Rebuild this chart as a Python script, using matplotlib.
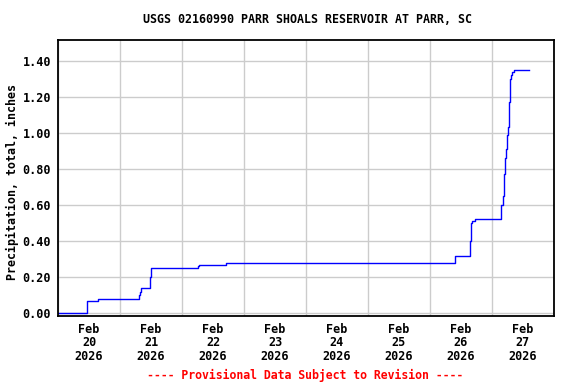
import pandas as pd
import matplotlib
matplotlib.use("Agg")
import matplotlib.pyplot as plt
import matplotlib.dates as mdates

# hours after 2026-02-20 00:00 and cumulative precipitation (inches)
HOURS = [0, 11.2, 15.5, 31.2, 31.7, 32.2, 35.8, 36.0, 54.0, 54.5, 65.0,
         153.6, 153.8, 159.4, 159.8, 160.3, 161.5, 171.6, 172.1, 172.6,
         172.8, 173.0, 173.3, 173.8, 174.2, 174.5, 175.0, 175.2, 175.7,
         176.4, 182.4]
PRECIP = [0.00, 0.07, 0.08, 0.10, 0.12, 0.14, 0.20, 0.25, 0.26, 0.27, 0.28,
          0.31, 0.32, 0.40, 0.50, 0.51, 0.52, 0.60, 0.65, 0.72,
          0.77, 0.86, 0.91, 0.99, 1.03, 1.17, 1.30, 1.32, 1.34,
          1.35, 1.35]
Y_TICKS = [0.0, 0.2, 0.4, 0.6, 0.8, 1.0, 1.2, 1.4]

START = pd.Timestamp("2026-02-20")
FONT = dict(family="DejaVu Sans Mono", weight="bold")


def main():
    times = START + pd.to_timedelta(HOURS, unit="h")

    fig = plt.figure(figsize=(5.76, 3.84), dpi=100)
    ax = fig.add_axes([0.1007, 0.1771, 0.8611, 0.7187])

    ax.plot(times, PRECIP, color="#0000ff", lw=1.0, drawstyle="steps-post")

    ax.set_xlim(START, START + pd.Timedelta(days=8))
    ax.set_ylim(-0.015, 1.515)

    # gridlines at midnight, labels at noon
    ax.xaxis.set_major_locator(mdates.DayLocator())
    ax.xaxis.set_major_formatter(plt.NullFormatter())
    ax.xaxis.set_minor_locator(mdates.HourLocator(byhour=[12]))
    ax.xaxis.set_minor_formatter(mdates.DateFormatter("%b\n%d\n%Y"))
    ax.tick_params(axis="x", which="both", length=0, pad=5)
    ax.tick_params(axis="y", length=0, pad=5)

    ax.set_yticks(Y_TICKS)
    ax.set_yticklabels([f"{v:.2f}" for v in Y_TICKS])
    for lbl in ax.get_xticklabels(minor=True) + ax.get_yticklabels():
        lbl.set_fontfamily(FONT["family"])
        lbl.set_fontweight("bold")
        lbl.set_fontsize(8.5)
    for lbl in ax.get_xticklabels(minor=True):
        lbl.set_linespacing(1.05)

    ax.grid(True, which="major", color="#cccccc", lw=1.0)
    ax.set_axisbelow(True)
    for sp in ax.spines.values():
        sp.set_linewidth(1.3)

    fig.text(0.021, 0.525, "Precipitation, total, inches", rotation=90,
             ha="center", va="center", fontsize=8.4, **FONT)
    fig.text(0.533, 0.95, "USGS 02160990 PARR SHOALS RESERVOIR AT PARR, SC",
             ha="center", va="center", fontsize=8.4, **FONT)
    fig.text(0.53, 0.023, "---- Provisional Data Subject to Revision ----",
             ha="center", va="center", fontsize=8.3, color="#ff0000", **FONT)

    fig.savefig("out.png", dpi=100)


if __name__ == "__main__":
    main()
